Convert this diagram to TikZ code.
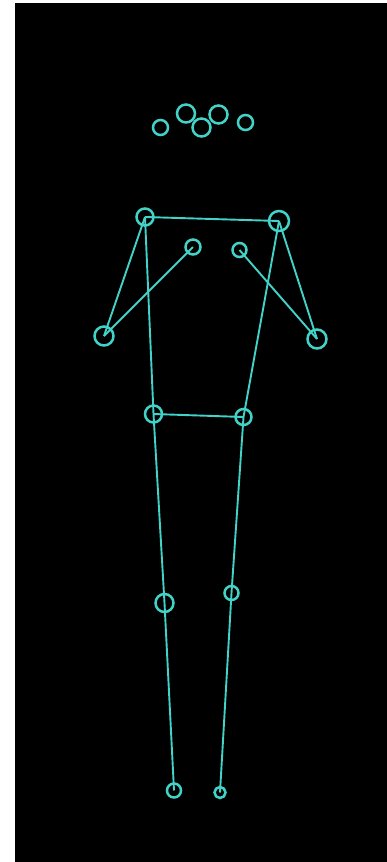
\documentclass[tikz,border=0pt]{standalone}
\begin{document}
\begin{tikzpicture}[x=1pt,y=-1pt,
  jnt/.style={circle,draw=skel,line width=2.5pt,inner sep=0pt,minimum size=#1},
  bone/.style={draw=skel,line width=1.9pt}]
\definecolor{skel}{RGB}{66,210,200}
\useasboundingbox (0,0) rectangle (387,862);
\fill[white] (0,0) rectangle (387,862);
\fill[black] (15,3) rectangle (387,862);
% head
\node[jnt=15pt] (h1) at (160.5,127.5) {};
\node[jnt=18pt] (h2) at (186,113.5) {};
\node[jnt=18pt] (h3) at (201.5,127.5) {};
\node[jnt=18pt] (h4) at (218.5,114.5) {};
\node[jnt=15pt] (h5) at (245.5,122.5) {};
% torso
\node[jnt=17pt] (ls) at (145,217) {};
\node[jnt=20pt] (rs) at (279,221) {};
\node[jnt=15pt] (le) at (193,247) {};
\node[jnt=14pt] (re) at (239.5,250) {};
\node[jnt=19pt] (lh) at (104,336) {};
\node[jnt=19pt] (rh) at (317,339) {};
\node[jnt=17pt] (lhip) at (153.5,414) {};
\node[jnt=16pt] (rhip) at (243.5,417) {};
\node[jnt=18pt] (lk) at (164.5,603) {};
\node[jnt=14pt] (rk) at (231.5,593) {};
\node[jnt=14pt] (la) at (174,790.5) {};
\node[jnt=11pt] (ra) at (220,792.5) {};
% bones
\draw[bone] (ls.center) -- (rs.center);
\draw[bone] (ls.center) -- (lh.center);
\draw[bone] (le.center) -- (lh.center);
\draw[bone] (rs.center) -- (rh.center);
\draw[bone] (re.center) -- (rh.center);
\draw[bone] (ls.center) -- (lhip.center);
\draw[bone] (rs.center) -- (rhip.center);
\draw[bone] (lhip.center) -- (rhip.center);
\draw[bone] (lhip.center) -- (lk.center) -- (la.center);
\draw[bone] (rhip.center) -- (rk.center) -- (ra.center);
\end{tikzpicture}
\end{document}
